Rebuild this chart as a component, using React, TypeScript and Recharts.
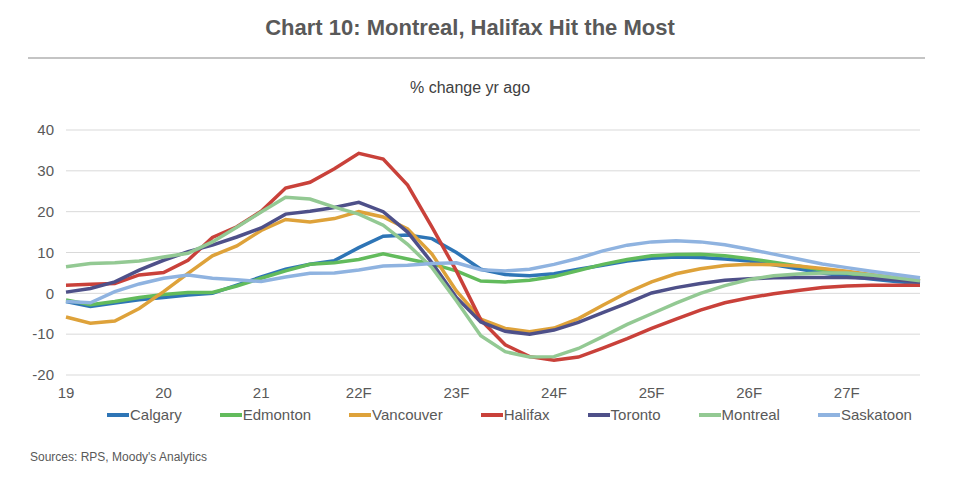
import React from 'react';
import { LineChart, Line, XAxis, YAxis, CartesianGrid } from 'recharts';

const years = ['19', '20', '21', '22F', '23F', '24F', '25F', '26F', '27F'];
const quarters = years.flatMap((y) => ['Q1', 'Q2', 'Q3', 'Q4'].map((q) => `${y} ${q}`));

const calgary = [-2.0, -3.2, -2.4, -1.6, -1.0, -0.4, 0.0, 2.0, 4.0, 5.9, 7.1, 8.0, 11.2, 14.0, 14.3, 13.4, 10.0, 5.9, 4.6, 4.3, 4.8, 5.9, 6.9, 7.9, 8.6, 8.9, 8.8, 8.4, 7.9, 7.0, 6.0, 5.0, 4.2, 3.5, 2.9, 2.4];
const edmonton = [-1.6, -2.8, -2.0, -1.0, -0.3, 0.2, 0.2, 1.8, 3.7, 5.5, 7.1, 7.5, 8.3, 9.7, 8.4, 7.2, 5.5, 3.0, 2.8, 3.2, 4.1, 5.6, 7.1, 8.3, 9.2, 9.5, 9.6, 9.2, 8.5, 7.6, 6.7, 5.7, 4.9, 4.2, 3.6, 3.1];
const vancouver = [-5.8, -7.3, -6.8, -3.7, 0.4, 4.9, 9.2, 11.6, 15.4, 18.1, 17.5, 18.3, 20.0, 18.7, 15.8, 9.6, 0.6, -6.3, -8.6, -9.4, -8.5, -6.2, -2.9, 0.2, 2.8, 4.8, 6.0, 6.8, 7.1, 7.0, 6.7, 6.1, 5.4, 4.6, 3.8, 3.1];
const halifax = [2.0, 2.2, 2.4, 4.5, 5.1, 8.1, 13.7, 16.3, 20.1, 25.8, 27.2, 30.5, 34.3, 32.9, 26.5, 16.2, 5.5, -6.5, -12.6, -15.5, -16.4, -15.6, -13.4, -11.1, -8.6, -6.3, -4.1, -2.3, -1.1, -0.1, 0.7, 1.4, 1.8, 1.95, 2.0, 2.0];
const toronto = [0.3, 1.2, 2.8, 5.7, 8.1, 10.2, 11.8, 13.8, 16.0, 19.4, 20.1, 21.0, 22.3, 20.0, 15.0, 7.5, -1.0, -7.0, -9.3, -10.0, -9.0, -7.1, -4.7, -2.4, 0.1, 1.4, 2.4, 3.2, 3.6, 3.8, 3.9, 3.9, 3.85, 3.7, 3.3, 2.8];
const montreal = [6.5, 7.3, 7.5, 7.9, 8.9, 9.8, 12.6, 16.2, 19.9, 23.5, 23.1, 21.1, 19.4, 16.7, 12.0, 6.3, -1.8, -10.4, -14.3, -15.6, -15.5, -13.5, -10.6, -7.6, -5.0, -2.4, 0.0, 1.9, 3.4, 4.3, 4.75, 5.0, 4.95, 4.5, 3.8, 3.1];
const saskatoon = [-2.0, -2.3, 0.4, 2.3, 3.7, 4.5, 3.7, 3.3, 2.9, 4.0, 4.9, 5.0, 5.7, 6.7, 6.9, 7.3, 7.5, 5.8, 5.5, 5.9, 7.1, 8.6, 10.4, 11.8, 12.6, 12.9, 12.6, 11.9, 10.8, 9.6, 8.4, 7.2, 6.3, 5.4, 4.6, 3.8];

const yTicks = [-20, -10, 0, 10, 20, 30, 40];

const series = [
  { key: 'calgary', name: 'Calgary', color: '#2E75B6', values: calgary },
  { key: 'edmonton', name: 'Edmonton', color: '#62BB5C', values: edmonton },
  { key: 'vancouver', name: 'Vancouver', color: '#DEA23A', values: vancouver },
  { key: 'halifax', name: 'Halifax', color: '#C9413A', values: halifax },
  { key: 'toronto', name: 'Toronto', color: '#4E5089', values: toronto },
  { key: 'montreal', name: 'Montreal', color: '#93C993', values: montreal },
  { key: 'saskatoon', name: 'Saskatoon', color: '#8FB3E0', values: saskatoon },
];

const data = quarters.map((q, i) => {
  const row: any = { q };
  series.forEach((s) => { row[s.key] = s.values[i]; });
  return row;
});

const font = 'Arial, "Liberation Sans", sans-serif';

export default function App() {
  return (
    <div style={{ position: 'absolute', left: 0, top: 0, width: 962, height: 487, background: '#fff', fontFamily: font }}>
      <div style={{ position: 'absolute', top: 15, left: 0, width: 940, textAlign: 'center', fontSize: 22, fontWeight: 'bold', color: '#595959' }}>
        Chart 10: Montreal, Halifax Hit the Most
      </div>
      <div style={{ position: 'absolute', top: 57, left: 28, width: 897, height: 2, background: '#c4c4c4' }} />
      <div style={{ position: 'absolute', top: 79, left: 0, width: 940, textAlign: 'center', fontSize: 16, color: '#404040' }}>
        % change yr ago
      </div>
      <LineChart
        width={962}
        height={487}
        data={data}
        margin={{ top: 130, right: 42, bottom: 82, left: 0 }}
        style={{ position: 'absolute', left: 0, top: 0 }}
      >
        <CartesianGrid vertical={false} stroke="#d9d9d9" strokeWidth={1} />
        <XAxis
          dataKey="q"
          interval={3}
          axisLine={false}
          tickLine={false}
          height={30}
          tickMargin={6}
          tick={{ fill: '#595959', fontSize: 15, fontFamily: font }}
          tickFormatter={(v: string) => v.split(' ')[0]}
        />
        <YAxis
          width={66}
          domain={[-20, 40]}
          ticks={yTicks}
          axisLine={false}
          tickLine={false}
          tickMargin={6}
          tick={{ fill: '#595959', fontSize: 15, fontFamily: font }}
        />
        {series.map((s) => (
          <Line
            key={s.key}
            dataKey={s.key}
            name={s.name}
            stroke={s.color}
            strokeWidth={3.5}
            dot={false}
            type="linear"
            isAnimationActive={false}
          />
        ))}
      </LineChart>
      <div style={{ position: 'absolute', top: 406, left: 107, display: 'flex', gap: 38, fontSize: 15, color: '#595959' }}>
        {series.map((s) => (
          <div key={s.key} style={{ display: 'flex', alignItems: 'center' }}>
            <div style={{ width: 22, height: 4, background: s.color, marginRight: 1 }} />
            <span>{s.name}</span>
          </div>
        ))}
      </div>
      <div style={{ position: 'absolute', top: 450, left: 30, fontSize: 12, color: '#595959' }}>
        Sources: RPS, Moody's Analytics
      </div>
    </div>
  );
}
